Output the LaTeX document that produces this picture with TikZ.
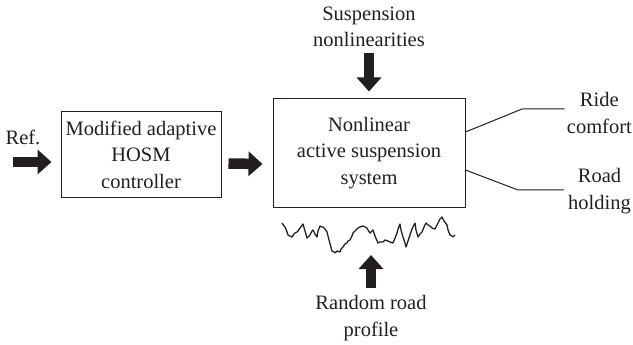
\documentclass[tikz,border=0pt]{standalone}
\usepackage{fontspec}
\setmainfont{Liberation Serif}
\usetikzlibrary{arrows.meta,calc}
\definecolor{ink}{HTML}{231F20}
\begin{document}
\begin{tikzpicture}[x=1pt,y=-1pt,
  lbl/.style={align=center,font=\fontsize{20.5}{26.5}\selectfont,text=ink,inner sep=0pt},
  blockbox/.style={draw=ink,line width=1pt,align=center,font=\fontsize{20.5}{26.5}\selectfont,text=ink,inner sep=0pt},
  bigarrow/.style={draw=ink,line width=10.5pt,-{Triangle[width=24pt,length=14pt]}},
  thinline/.style={draw=ink,line width=1pt}]
\useasboundingbox (0,0) rectangle (633,345);
\node[blockbox,minimum width=160pt,minimum height=85pt] (ctrl) at (141,154.5) {Modified adaptive\\HOSM\\controller};
\node[blockbox,minimum width=192pt,minimum height=108pt] (sys) at (369,153) {Nonlinear\\active suspension\\system};
\node[lbl] (ref) at (23,137) {Ref.};
\coordinate (refin) at (13,162);
\node[lbl] (snl) at (369,27) {Suspension\\nonlinearities};
\node[lbl] (rrp) at (371,318) {Random road\\profile};
\node[lbl,anchor=east] (ride) at (632,113) {Ride\\comfort};
\node[lbl,anchor=east] (hold) at (631,191) {Road\\holding};
\coordinate (b1) at (522,109);
\coordinate (b2) at (518,190);
\coordinate (roadtop) at (371,255);
% arrows
\draw[bigarrow] (refin) -- ($(ctrl.west)+(-9,7.5)$);
\draw[bigarrow] ($(ctrl.east)+(7,9)$) -- ($(sys.west)+(-10,11)$);
\draw[bigarrow] (369,53) -- ($(sys.north)+(0,-7)$);
\draw[bigarrow] ($(rrp.north)+(0,-7)$) -- (roadtop);
% outputs
\draw[thinline] ($(sys.east)+(0,-21)$) -- (b1) -- ($(ride.west)+(-2,-4)$);
\draw[thinline] ($(sys.east)+(0,17)$) -- (b2) -- ($(hold.west)+(-4,-1)$);
% road profile
\draw[ink,line width=1.3pt,line join=round] plot coordinates {
(282,223) (284,226) (285,227) (287,232) (288,235) (290,236) (292,237) (294,234) (295,233) (297,232) (298,231) (300,228) (303,224) (305,231) (307,238) (309,236) (310,235) (312,231) (313,230) (315,234) (317,237) (318,231) (320,226) (322,227) (323,227) (325,229) (327,232) (329,240) (332,251) (334,252) (335,253) (337,251) (340,252) (341,249) (343,247) (345,244) (347,243) (348,241) (350,240) (352,236) (353,233) (355,231) (358,228) (360,227) (363,226) (365,227) (367,228) (368,230) (370,233) (372,231) (373,230) (375,236) (378,243) (380,242) (383,242) (385,240) (388,241) (390,242) (393,243) (395,238) (397,233) (398,229) (400,224) (401,230) (403,237) (405,243) (406,247) (408,241) (410,235) (412,229) (415,223) (416,230) (418,237) (420,234) (422,232) (424,227) (426,223) (428,225) (430,226) (432,228) (435,229) (437,225) (438,223) (440,219) (442,217) (444,221) (447,225) (448,230) (450,235) (452,236) (453,237) (455,235)};
\end{tikzpicture}
\end{document}
